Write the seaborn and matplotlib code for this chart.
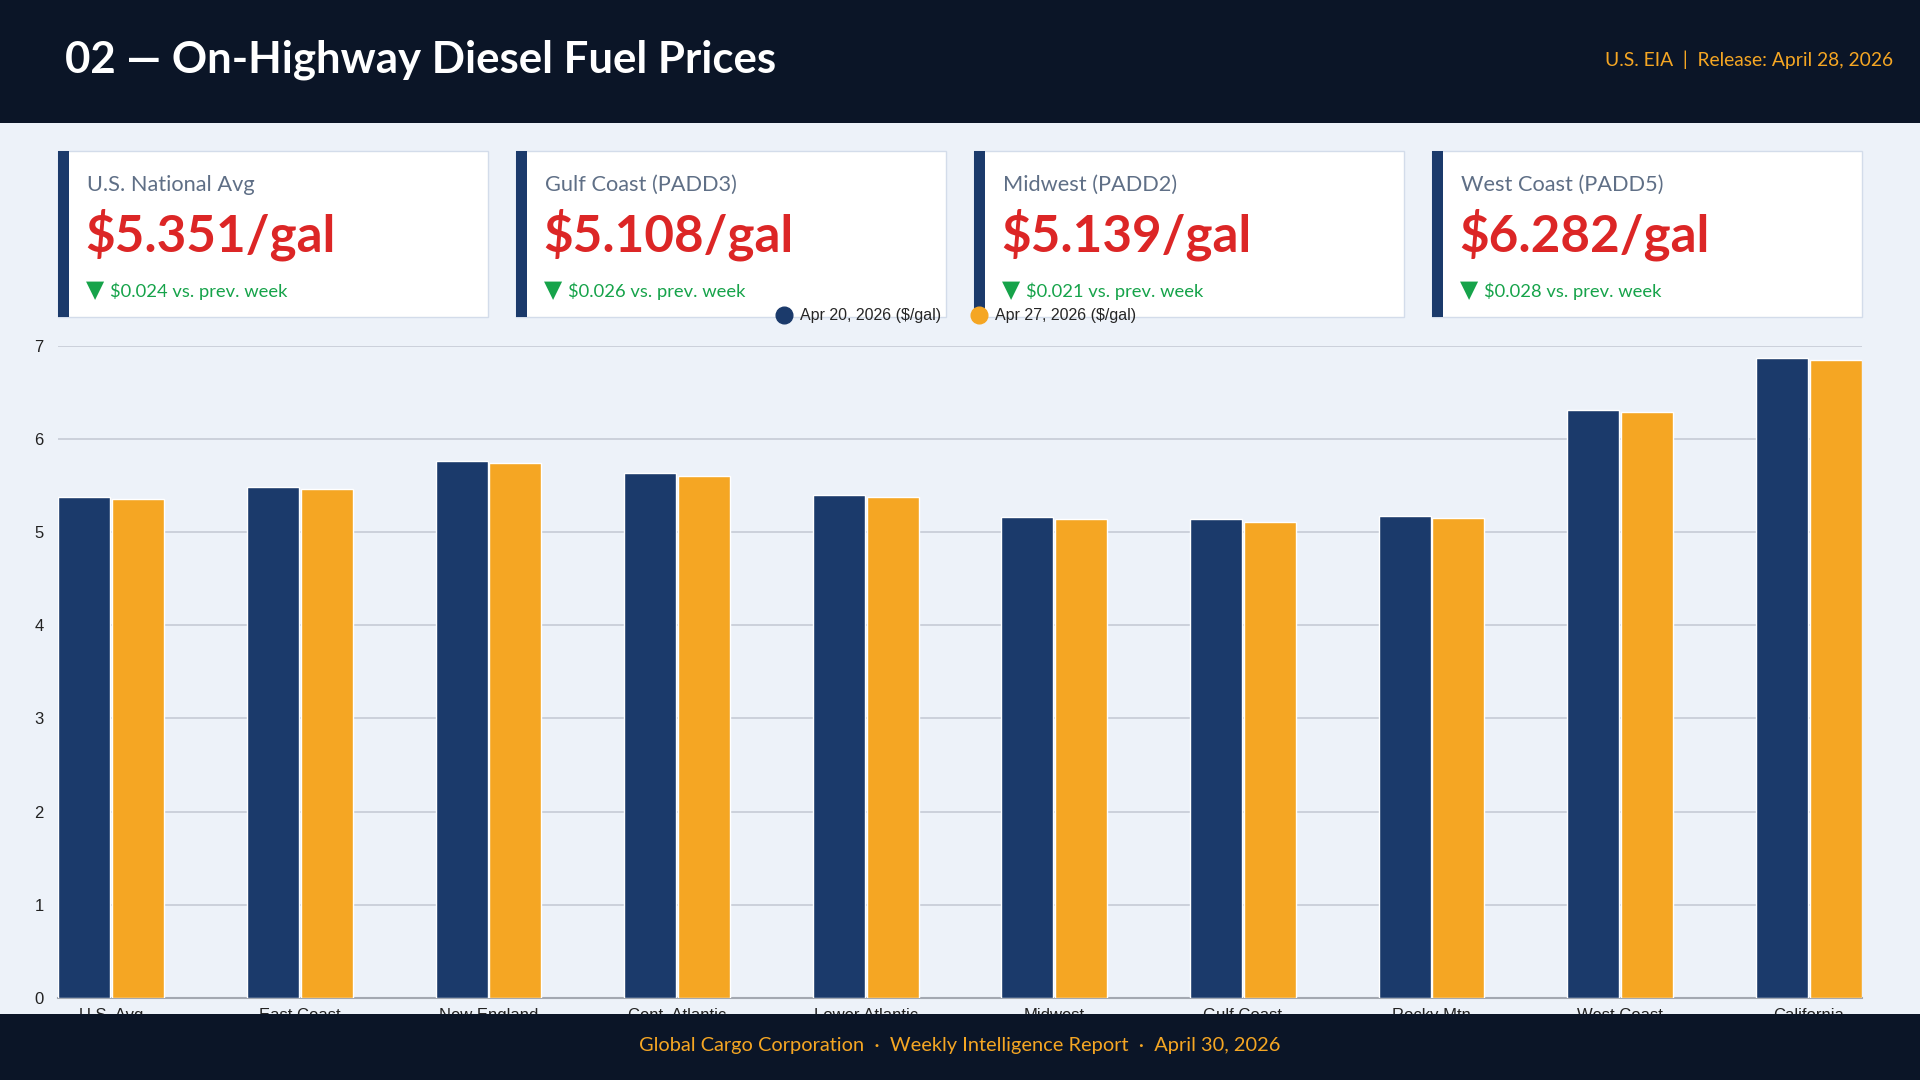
import matplotlib
matplotlib.use("Agg")
import matplotlib.pyplot as plt
from matplotlib.patches import Rectangle
from matplotlib.lines import Line2D
import pandas as pd
import seaborn as sns

# 01- Data
regions = ["U.S. Avg", "East Coast", "New England", "Cent. Atlantic", "Lower Atlantic",
           "Midwest", "Gulf Coast", "Rocky Mtn", "West Coast", "California"]
prev_week = [5.375, 5.480, 5.758, 5.630, 5.394, 5.160, 5.134, 5.175, 6.310, 6.868]
this_week = [5.351, 5.458, 5.737, 5.604, 5.372, 5.139, 5.108, 5.150, 6.282, 6.840]
series_names = ["Apr 20, 2026 ($/gal)", "Apr 27, 2026 ($/gal)"]

card_titles = ["U.S. National Avg", "Gulf Coast (PADD3)", "Midwest (PADD2)", "West Coast (PADD5)"]
card_prices = [5.351, 5.108, 5.139, 6.282]
card_changes = [0.024, 0.026, 0.021, 0.028]

title = "02 \u2014 On-Highway Diesel Fuel Prices"
source = "U.S. EIA  |  Release: April 28, 2026"
footer = "Global Cargo Corporation  \u00b7  Weekly Intelligence Report  \u00b7  April 30, 2026"

# colours
DARK = "#0b1527"
BG = "#edf2f9"
NAVY = "#1b3a6b"
ORANGE = "#f5a623"
RED = "#dc2626"
GREEN = "#16a34a"
SLATE = "#5f6f86"

W, H = 1920, 1080

sns.set_theme(style="white")
plt.rcParams["font.family"] = ["Lato", "DejaVu Sans"]

fig = plt.figure(figsize=(19.2, 10.8), dpi=100)
fig.patch.set_facecolor(BG)

# 02- Background layer (header + cards), pixel coords
bg = fig.add_axes([0, 0, 1, 1], zorder=-1)
bg.set_xlim(0, W)
bg.set_ylim(H, 0)
bg.axis("off")
bg.add_patch(Rectangle((0, 0), W, 123, color=DARK, lw=0))
bg.text(65, 60, title, color="white", fontsize=31.5, fontweight="bold", va="center", ha="left")
bg.text(1893, 60, source, color=ORANGE, fontsize=13.9, va="center", ha="right")

card_x = [57.5, 515.5, 973.5, 1431.5]
card_w, card_top, card_h = 430, 151, 166
for cx, ttl, price, chg in zip(card_x, card_titles, card_prices, card_changes):
    bg.add_patch(Rectangle((cx, card_top), card_w, card_h, facecolor="white",
                           edgecolor="#d3dcea", lw=1))
    bg.add_patch(Rectangle((cx, card_top), 11, card_h, color=NAVY, lw=0))
    bg.text(cx + 29.5, 185, ttl, color=SLATE, fontsize=15.7, va="center", ha="left")
    bg.text(cx + 28, 235, f"${price:.3f}/gal", color=RED, fontsize=36.8, fontweight="bold",
            va="center", ha="left")
    bg.text(cx + 28, 290, "\u25bc", color=GREEN, fontsize=17, va="center", ha="left",
            family=["DejaVu Sans"])
    bg.text(cx + 52, 291, f"${chg:.3f} vs. prev. week", color=GREEN, fontsize=13.2,
            va="center", ha="left")

# 03- Bar chart
df = pd.DataFrame({
    "region": regions * 2,
    "price": prev_week + this_week,
    "week": [series_names[0]] * len(regions) + [series_names[1]] * len(regions),
})

ax = fig.add_axes([57.5 / W, (H - 998) / H, 1805 / W, 652.5 / H])
ax.set_facecolor(BG)
sns.barplot(data=df, x="region", y="price", hue="week", hue_order=series_names,
            palette=[NAVY, ORANGE], saturation=1, width=0.57, gap=0.03,
            legend=False, ax=ax, zorder=3)
ax.set_xlim(-0.285, len(regions) - 1 + 0.285)
ax.set_ylim(0, 7)
ax.set_yticks(range(0, 8))
ax.set_xlabel("")
ax.set_ylabel("")
ax.grid(axis="y", color="#c9ced8", lw=1.3, zorder=0)
ax.set_axisbelow(True)
for s in ["top", "right", "left"]:
    ax.spines[s].set_visible(False)
ax.spines["bottom"].set_color("#a3a8b1")
ax.spines["bottom"].set_linewidth(1.5)
ax.tick_params(axis="both", length=0, labelsize=12, labelcolor="#222222")
ax.tick_params(axis="y", pad=10)
ax.tick_params(axis="x", pad=7)
for lab in ax.get_xticklabels() + ax.get_yticklabels():
    lab.set_family(["Liberation Sans", "DejaVu Sans"])

handles = [Line2D([], [], marker="o", ls="", markersize=12, color=c) for c in (NAVY, ORANGE)]
ax.legend(handles, series_names, loc="center", bbox_to_anchor=(0.4985, 1 - 316 / H),
          bbox_transform=fig.transFigure, ncol=2, frameon=False, handlelength=0.8,
          handletextpad=0.6, columnspacing=2.0,
          prop={"family": ["Liberation Sans", "DejaVu Sans"], "size": 11.5})

# 04- Footer on top (clips tick labels like the original)
fig.add_artist(Rectangle((0, 0), 1, 66 / H, transform=fig.transFigure,
                         color=DARK, lw=0, zorder=5))
fig.text(0.5, 1 - 1046 / H, footer, color=ORANGE, fontsize=14.4, ha="center", va="center",
         zorder=6)

fig.savefig("out.png", dpi=100, facecolor=BG)
